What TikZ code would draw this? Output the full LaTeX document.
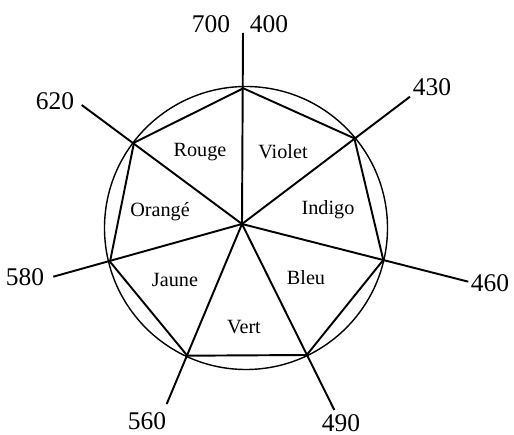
\documentclass[tikz,border=0pt]{standalone}
\usepackage{fontspec}
\setmainfont{Liberation Serif}
\usetikzlibrary{calc}

\begin{document}
\begin{tikzpicture}[x=0.02cm,y=-0.02cm,
  spoke/.style={line width=1.1pt},
  wavelab/.style={font=\fontsize{14.5}{16}\selectfont, inner sep=0pt},
  colourlab/.style={font=\fontsize{11.5}{13}\selectfont, inner sep=0pt}]
\useasboundingbox (0,0) rectangle (514,435);
% centre of the star, and the circle
\coordinate (c) at (242,224);
\draw[line width=0.8pt] (246,228) circle[radius=141.5];
% vertices and free ends of the spokes
\foreach \n/\vx/\vy/\ex/\ey in {a/243.3/88.3/243/33, b/354.3/138.3/410/96.7,
    c/383.3/260/468.3/281.7, d/306.7/355/334.3/410, e/187.3/355.7/166.7/404,
    f/110/261.7/53.3/276.7, g/134/142.7/81.7/105} {
  \coordinate (v\n) at (\vx,\vy);
  \coordinate (e\n) at (\ex,\ey);
  \draw[spoke] (c) -- (e\n);
}
% heptagon
\draw[spoke, line join=round] (va) -- (vb) -- (vc) -- (vd) -- (ve) -- (vf) -- (vg) -- cycle;
% wavelengths
\foreach \w/\lx/\ly in {700/211/24, 400/269/24, 430/432/87, 460/490/283,
    490/341/423, 560/147/421, 580/25/277, 620/55/101} {
  \node[wavelab] (w\w) at (\lx,\ly) {\w};
}
% colour names
\foreach \nm/\lx/\ly/\txt in {rouge/200/152/Rouge, violet/283/152/Violet,
    indigo/328/210/Indigo, orange/160/212/Orangé, jaune/175/280/Jaune,
    bleu/306/278/Bleu, vert/244/327/Vert} {
  \node[colourlab] (\nm) at (\lx,\ly) {\txt};
}
\end{tikzpicture}
\end{document}
